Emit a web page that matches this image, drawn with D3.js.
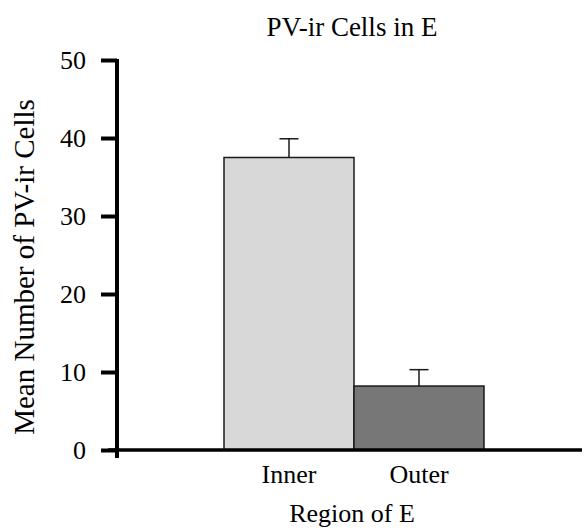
<!DOCTYPE html>
<html>
<head>
<meta charset="utf-8">
<script src="https://cdn.jsdelivr.net/npm/d3@7"></script>
<style>
  body { margin: 0; background: #fff; }
  text { font-family: "Liberation Serif", "Times New Roman", serif; fill: #000; }
</style>
</head>
<body>
<div id="chart"></div>
<script>
// chart data
const regions = ['Inner', 'Outer'];
const means = [37.5, 8.2];
const errors = [2.4, 2.1];
const barColors = ['#d8d8d8', '#777777'];
const yTicks = [0, 10, 20, 30, 40, 50];

const width = 586, height = 531;

const svg = d3.select('#chart').append('svg')
    .attr('width', width)
    .attr('height', height);

const y = d3.scaleLinear().domain([0, 50]).range([450, 60]);
const x = d3.scaleBand().domain(regions).range([224, 484]).padding(0);

// bars
svg.selectAll('.bar')
    .data(regions)
  .join('rect')
    .attr('class', 'bar')
    .attr('x', d => x(d))
    .attr('y', (d, i) => y(means[i]))
    .attr('width', x.bandwidth())
    .attr('height', (d, i) => y(0) - y(means[i]))
    .attr('fill', (d, i) => barColors[i])
    .attr('stroke', '#1a1a1a')
    .attr('stroke-width', 1.5);

// error bars (upper only)
const errG = svg.selectAll('.err')
    .data(regions)
  .join('g')
    .attr('class', 'err')
    .attr('stroke', '#1a1a1a')
    .attr('stroke-width', 1.5);

errG.append('line')
    .attr('x1', d => x(d) + x.bandwidth() / 2)
    .attr('x2', d => x(d) + x.bandwidth() / 2)
    .attr('y1', (d, i) => y(means[i]))
    .attr('y2', (d, i) => y(means[i] + errors[i]));

errG.append('line')
    .attr('x1', d => x(d) + x.bandwidth() / 2 - 9.5)
    .attr('x2', d => x(d) + x.bandwidth() / 2 + 9.5)
    .attr('y1', (d, i) => y(means[i] + errors[i]))
    .attr('y2', (d, i) => y(means[i] + errors[i]));

// y axis
const yAxis = svg.append('g')
    .attr('transform', 'translate(117,0)')
    .call(d3.axisLeft(y).tickValues(yTicks).tickSize(16).tickPadding(15).tickSizeOuter(0));
yAxis.select('.domain')
    .attr('stroke', '#000')
    .attr('stroke-width', 4)
    .attr('d', `M0,${y(50) - 1}V${y(0) + 8}`);
yAxis.selectAll('.tick line').attr('stroke', '#000').attr('stroke-width', 4);
yAxis.selectAll('.tick text')
    .style('font-size', '26px')
    .attr('dy', '0.34em');

// x axis baseline
svg.append('line')
    .attr('x1', 108)
    .attr('x2', 582)
    .attr('y1', y(0))
    .attr('y2', y(0))
    .attr('stroke', '#000')
    .attr('stroke-width', 3.5);

// category labels
svg.selectAll('.xlabel')
    .data(regions)
  .join('text')
    .attr('class', 'xlabel')
    .attr('x', d => x(d) + x.bandwidth() / 2)
    .attr('y', 483)
    .attr('text-anchor', 'middle')
    .style('font-size', '26px')
    .text(d => d);

// titles
svg.append('text')
    .attr('x', 352)
    .attr('y', 36)
    .attr('text-anchor', 'middle')
    .style('font-size', '27px')
    .text('PV-ir Cells in E');

svg.append('text')
    .attr('x', 352)
    .attr('y', 522)
    .attr('text-anchor', 'middle')
    .style('font-size', '26px')
    .text('Region of E');

svg.append('text')
    .attr('transform', 'translate(34,267) rotate(-90)')
    .attr('text-anchor', 'middle')
    .style('font-size', '29px')
    .text('Mean Number of PV-ir Cells');
</script>
</body>
</html>
